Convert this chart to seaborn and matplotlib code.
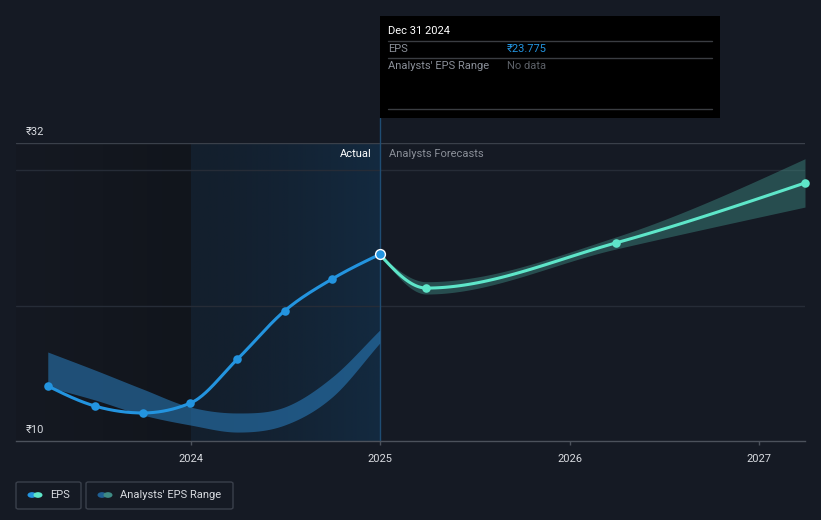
# EPS history and analyst forecasts - dark dashboard style chart

import numpy as np
import pandas as pd
import seaborn as sns
import matplotlib.pyplot as plt
from matplotlib.patches import Rectangle, FancyBboxPatch, Circle

# ---------------- data ----------------
actual_dates = ["2023-03-31", "2023-06-30", "2023-09-30", "2023-12-31",
                "2024-03-31", "2024-06-30", "2024-09-30", "2024-12-31"]
actual_eps = [14.06, 12.58, 12.07, 12.80, 16.05, 19.60, 21.96, 23.775]

# past analyst range (band behind the actual line)
past_range_low = [13.99, 13.03, 11.92, 11.18, 10.66, 11.18, 13.25, 17.23]
past_range_high = [16.57, 15.24, 13.84, 12.51, 12.07, 12.51, 14.72, 18.19]

forecast_dates = ["2024-12-31", "2025-03-31", "2026-03-31", "2027-03-31"]
forecast_eps = [23.775, 21.29, 24.62, 29.05]
forecast_low = [23.775, 20.85, 24.17, 27.27]
forecast_high = [23.775, 21.76, 25.06, 30.84]

year_ticks = [2024, 2025, 2026, 2027]
y_labels = [10, 32]
y_grid = [20, 30]

# ---------------- colours ----------------
BG = "#151a24"
BLUE = "#2394df"
TEAL = "#5ee6c9"
GRID = "#262c37"
TEXT = "#d8dbe0"
MUTED = "#8a8f98"


def to_year(dates):
    d = pd.to_datetime(pd.Series(dates))
    start = pd.to_datetime(d.dt.year.astype(str) + "-01-01")
    days = np.where(d.dt.is_leap_year, 366, 365)
    return (d.dt.year + (d - start).dt.days / days).to_numpy(dtype=float)


def hermite(x, y, m, n=40):
    h = np.diff(x)
    xs, ys = [], []
    for i in range(len(h)):
        t = np.linspace(0, 1, n, endpoint=(i == len(h) - 1))
        h00 = 2 * t**3 - 3 * t**2 + 1
        h10 = t**3 - 2 * t**2 + t
        h01 = -2 * t**3 + 3 * t**2
        h11 = t**3 - t**2
        xs.append(x[i] + t * h[i])
        ys.append(h00 * y[i] + h10 * h[i] * m[i] + h01 * y[i + 1] + h11 * h[i] * m[i + 1])
    return np.concatenate(xs), np.concatenate(ys)


def monotone(x, y):
    # monotone cubic (Fritsch-Carlson) for drawing a smooth curve
    x = np.asarray(x, float)
    y = np.asarray(y, float)
    h = np.diff(x)
    s = np.diff(y) / h
    m = np.zeros_like(y)
    for i in range(1, len(y) - 1):
        if s[i - 1] * s[i] <= 0:
            m[i] = 0
        else:
            p = (s[i - 1] * h[i] + s[i] * h[i - 1]) / (h[i - 1] + h[i])
            m[i] = (np.sign(s[i - 1]) + np.sign(s[i])) * min(abs(s[i - 1]), abs(s[i]), 0.5 * abs(p))
    m[0] = (3 * s[0] - m[1]) / 2
    m[-1] = (3 * s[-1] - m[-2]) / 2
    return hermite(x, y, m)


def smooth(x, y):
    # catmull-rom style tangents, softer than monotone
    x = np.asarray(x, float)
    y = np.asarray(y, float)
    m = np.gradient(y, x)
    return hermite(x, y, m)


xa = to_year(actual_dates)
xf = to_year(forecast_dates)

# ---------------- figure ----------------
sns.set_theme(style="dark")
plt.rcParams["font.family"] = ["Roboto", "DejaVu Sans"]

W, H = 821, 520
fig = plt.figure(figsize=(W / 100, H / 100), dpi=100, facecolor=BG)


def fx(px):
    return px / W


def fy(py):
    return 1 - py / H


ax = fig.add_axes([fx(16), fy(441), fx(805 - 16), (441 - 143) / H])
ax.set_facecolor(BG)

x_min, x_max = 2023.076, xf[-1]

# shaded "past" region and highlighted last year
lg = np.linspace(0, 1, 256)
c0 = np.array([0x15, 0x19, 0x22]) / 255
c1 = np.array([0x11, 0x15, 0x1c]) / 255
img = (c0[None, :] * (1 - lg[:, None]) + c1[None, :] * lg[:, None])[None, :, :]
ax.imshow(img, extent=[x_min, 2024.0, 10, 32], aspect="auto", zorder=0,
          interpolation="bilinear")

c2 = np.array([0x13, 0x1f, 0x2d]) / 255
c3 = np.array([0x13, 0x2a, 0x40]) / 255
g = np.linspace(0, 1, 256) ** 1.5
img2 = (c2[None, :] * (1 - g[:, None]) + c3[None, :] * g[:, None])[None, :, :]
ax.imshow(img2, extent=[2024.0, 2025.0, 10, 32], aspect="auto", zorder=0,
          interpolation="bilinear")
ax.set_xlim(x_min, x_max)
ax.set_ylim(10, 32)

# grid lines
for v in y_grid:
    ax.axhline(v, color=GRID, lw=1, zorder=1)
ax.axhline(32, color="#3a404a", lw=1, zorder=1)

# vertical "today" line reaching up to the tooltip
ax.plot([2025.0, 2025.0], [10, 32 + 25 / 13.545], color="#1f4d73", lw=1,
        clip_on=False, zorder=2)

# past analysts' range band
bx, blo = smooth(xa, past_range_low)
_, bhi = smooth(xa, past_range_high)
ax.fill_between(bx, blo, bhi, color="#2a7fc0", alpha=0.55, lw=0, zorder=2)

# forecast range band
fxs, flo = monotone(xf, forecast_low)
_, fhi = monotone(xf, forecast_high)
ax.fill_between(fxs, flo, fhi, color="#3f8c84", alpha=0.45, lw=0, zorder=2)

# lines
lx, ly = monotone(xa, actual_eps)
sns.lineplot(x=lx, y=ly, color=BLUE, lw=2.2, ax=ax, zorder=4, sort=False)
kx, ky = monotone(xf, forecast_eps)
sns.lineplot(x=kx, y=ky, color=TEAL, lw=2.2, ax=ax, zorder=4, sort=False)

# markers
sns.scatterplot(x=xa[:-1], y=actual_eps[:-1], color=BLUE, s=38, linewidth=0,
                ax=ax, zorder=5)
sns.scatterplot(x=xf[1:], y=forecast_eps[1:], color=TEAL, s=38, linewidth=0,
                ax=ax, zorder=5, clip_on=False)
sns.scatterplot(x=xa[-1:], y=actual_eps[-1:], color=BLUE, s=50,
                edgecolor="white", linewidth=1.0, ax=ax, zorder=6)

# section labels
ax.text(2025.0 - 0.045, 31.2, "Actual", color="white", fontsize=8,
        ha="right", va="center", zorder=6)
ax.text(2025.0 + 0.045, 31.2, "Analysts Forecasts", color=MUTED, fontsize=8,
        ha="left", va="center", zorder=6)

# y labels inside plot
for v in y_labels:
    ax.text(x_min + 10 / 189.3, v + 0.8, "₹" + str(v), color=TEXT, fontsize=8,
            ha="left", va="center", zorder=6)

# x axis
ax.set_xticks(year_ticks)
ax.set_xticklabels([str(y) for y in year_ticks], color=TEXT, fontsize=8)
ax.set_yticks([])
ax.tick_params(axis="x", length=3, width=1, color="#4c525c", pad=6, bottom=True)
for side in ["top", "left", "right"]:
    ax.spines[side].set_visible(False)
ax.spines["bottom"].set_color("#4c525c")
ax.spines["bottom"].set_linewidth(1)
ax.set_xlabel("")
ax.set_ylabel("")
ax.grid(False)

# ---------------- tooltip ----------------
fig.patches.append(Rectangle((fx(380), fy(118)), fx(340), (118 - 16) / H,
                             transform=fig.transFigure, facecolor="black",
                             edgecolor="none", zorder=10))
for py in [41, 58, 109]:
    fig.lines.append(plt.Line2D([fx(388), fx(712)], [fy(py), fy(py)],
                                transform=fig.transFigure, color="#3a3d42",
                                lw=1, zorder=11))
fig.text(fx(388), fy(31), "Dec 31 2024", color="white", fontsize=8,
         va="center", zorder=12)
fig.text(fx(388), fy(49), "EPS", color=MUTED, fontsize=8, va="center", zorder=12)
fig.text(fx(507), fy(49), "₹23.775", color=BLUE, fontsize=8, va="center",
         zorder=12)
fig.text(fx(388), fy(66), "Analysts' EPS Range", color=MUTED, fontsize=8,
         va="center", zorder=12)
fig.text(fx(507), fy(66), "No data", color="#5c6067", fontsize=8, va="center",
         zorder=12)

# ---------------- legend ----------------
legend_items = [
    (16, 81, ["#2394df", "#5ee6c9"], "EPS"),
    (86, 233, ["#1f5f93", "#3e8a84"], "Analysts' EPS Range"),
]
for x0, x1, cols, label in legend_items:
    fig.patches.append(FancyBboxPatch((fx(x0), fy(509)), fx(x1 - x0), 27 / H,
                                      boxstyle="round,pad=0,rounding_size=0.003",
                                      transform=fig.transFigure, facecolor="none",
                                      edgecolor="#3a404b", lw=1, zorder=10))
    for k, c in enumerate(cols):
        fig.patches.append(Circle((fx(x0 + 16 + k * 6), fy(495)), 4.5 / W,
                                  transform=fig.transFigure, facecolor=c,
                                  edgecolor="none", zorder=11))
    fig.text(fx(x0 + 34), fy(495), label, color=TEXT, fontsize=8,
             va="center", zorder=12)

plt.savefig("out.png", dpi=100, facecolor=BG)
